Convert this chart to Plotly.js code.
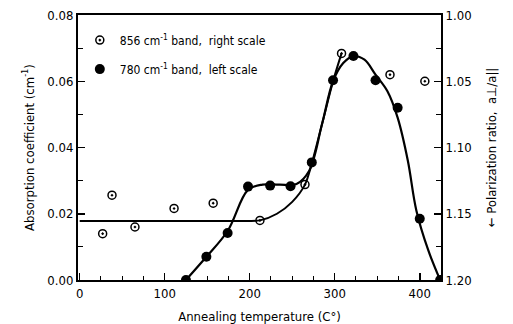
<!DOCTYPE html>
<html><head><meta charset="utf-8">
<script src="https://cdn.plot.ly/plotly-3.0.1.min.js"></script>
<style>body{margin:0;background:#fff}#c{width:513px;height:324px}</style>
</head><body><div id="c"></div>
<script>
// 780 cm-1 band (left scale) measured points
const temp780 = [125, 149, 174, 198, 224, 248, 273, 298, 322, 348, 374, 400, 424];
const abs780  = [0.000, 0.0070, 0.0142, 0.0282, 0.0285, 0.0283, 0.0355, 0.0603, 0.0676, 0.0603, 0.0520, 0.0185, 0.000];
// 780 band smooth fit
const fitTemp780 = [125, 149, 174, 198, 215, 235, 255, 270, 285, 298, 310, 322, 335, 348, 362, 374, 386, 396, 410, 424];
const fitAbs780  = [0.000, 0.0070, 0.0148, 0.0272, 0.0288, 0.0288, 0.0290, 0.0330, 0.0470, 0.0600, 0.0655, 0.0676, 0.0665, 0.0620, 0.0570, 0.0490, 0.0360, 0.0210, 0.0090, 0.000];
// 856 cm-1 band (right scale) measured points
const temp856  = [27, 38, 65, 111, 157, 212, 265, 308, 365, 406];
const ratio856 = [1.165, 1.136, 1.160, 1.146, 1.142, 1.155, 1.128, 1.029, 1.045, 1.050];
// 856 band fit
const fitTemp856  = [0, 60, 120, 180, 212, 232, 250, 265, 273, 286, 298, 308];
const fitRatio856 = [1.1555, 1.1555, 1.1555, 1.1555, 1.1550, 1.150, 1.141, 1.128, 1.112, 1.080, 1.050, 1.029];

const xTicks = [0, 100, 200, 300, 400];
const yLeftTicks = [0, 0.02, 0.04, 0.06, 0.08];
const yRightTicks = [1.00, 1.05, 1.10, 1.15, 1.20];

const fam = '"DejaVu Sans Condensed", "DejaVu Sans", sans-serif';
const font = {family: fam, color: '#000', size: 12};

const traces = [
  {x: fitTemp856, y: fitRatio856, yaxis: 'y2', mode: 'lines', line: {color: '#000', width: 2, shape: 'spline', smoothing: 0.8}, showlegend: false, hoverinfo: 'skip'},
  {x: fitTemp780, y: fitAbs780, mode: 'lines', line: {color: '#000', width: 2.2, shape: 'spline', smoothing: 1}, showlegend: false, hoverinfo: 'skip'},
  {x: temp856, y: ratio856, yaxis: 'y2', mode: 'markers', name: '856 cm<sup>-1</sup> band,  right scale', legendgroup: 'a',
   marker: {symbol: 'circle-open-dot', size: 8, color: '#000', line: {color: '#000', width: 1.5}}},
  {x: temp780, y: abs780, mode: 'markers', name: '780 cm<sup>-1</sup> band,  left scale', legendgroup: 'b',
   marker: {symbol: 'circle', size: 10, color: '#000'}}
];

const layout = {
  width: 513, height: 324,
  margin: {l: 78, r: 72, t: 15, b: 44},
  paper_bgcolor: '#fff', plot_bgcolor: '#fff',
  font: font,
  showlegend: true,
  legend: {x: 0.005, y: 0.96, xanchor: 'left', yanchor: 'top', bgcolor: 'rgba(0,0,0,0)', font: {family: fam, size: 12, color: '#000'},
           traceorder: 'grouped', tracegroupgap: 10},
  xaxis: {range: [-2, 425], tickvals: xTicks, ticktext: xTicks.map(String), ticks: 'inside', ticklen: 7, tickwidth: 1.5, tickcolor: '#000',
          minor: {dtick: 25, tick0: 0, ticks: 'inside', ticklen: 4, tickcolor: '#000', tickwidth: 1},
          showline: true, linecolor: '#000', linewidth: 2, mirror: true, showgrid: false, zeroline: false,
          tickfont: {family: fam, size: 13, color: '#000'},
          title: {text: 'Annealing temperature (C°)', font: {family: fam, size: 13, color: '#000'}, standoff: 14}},
  yaxis: {range: [0, 0.08], tickvals: yLeftTicks, ticktext: yLeftTicks.map(v => v.toFixed(2)), ticks: 'inside', ticklen: 7, tickwidth: 1.5, tickcolor: '#000',
          minor: {dtick: 0.01, tick0: 0, ticks: 'inside', ticklen: 5, tickcolor: '#000', tickwidth: 1},
          showline: true, linecolor: '#000', linewidth: 2, showgrid: false, zeroline: false,
          tickfont: {family: fam, size: 13, color: '#000'},
          title: {text: 'Absorption coefficient (cm<sup>-1</sup>)', font: {family: fam, size: 13, color: '#000'}, standoff: 10}},
  yaxis2: {overlaying: 'y', side: 'right', range: [1.20, 1.00], tickvals: yRightTicks, ticktext: yRightTicks.map(v => v.toFixed(2)),
          ticks: 'inside', ticklen: 7, tickwidth: 1.5, tickcolor: '#000',
          minor: {dtick: 0.025, tick0: 1.0, ticks: 'inside', ticklen: 5, tickcolor: '#000', tickwidth: 1},
          showline: true, linecolor: '#000', linewidth: 2, showgrid: false, zeroline: false,
          tickfont: {family: fam, size: 13, color: '#000'},
          title: {text: '← Polarization ratio,  a⊥/a||', font: {family: fam, size: 13, color: '#000'}, standoff: 16}}
};

Plotly.newPlot('c', traces, layout, {staticPlot: true, displayModeBar: false});
</script></body></html>
